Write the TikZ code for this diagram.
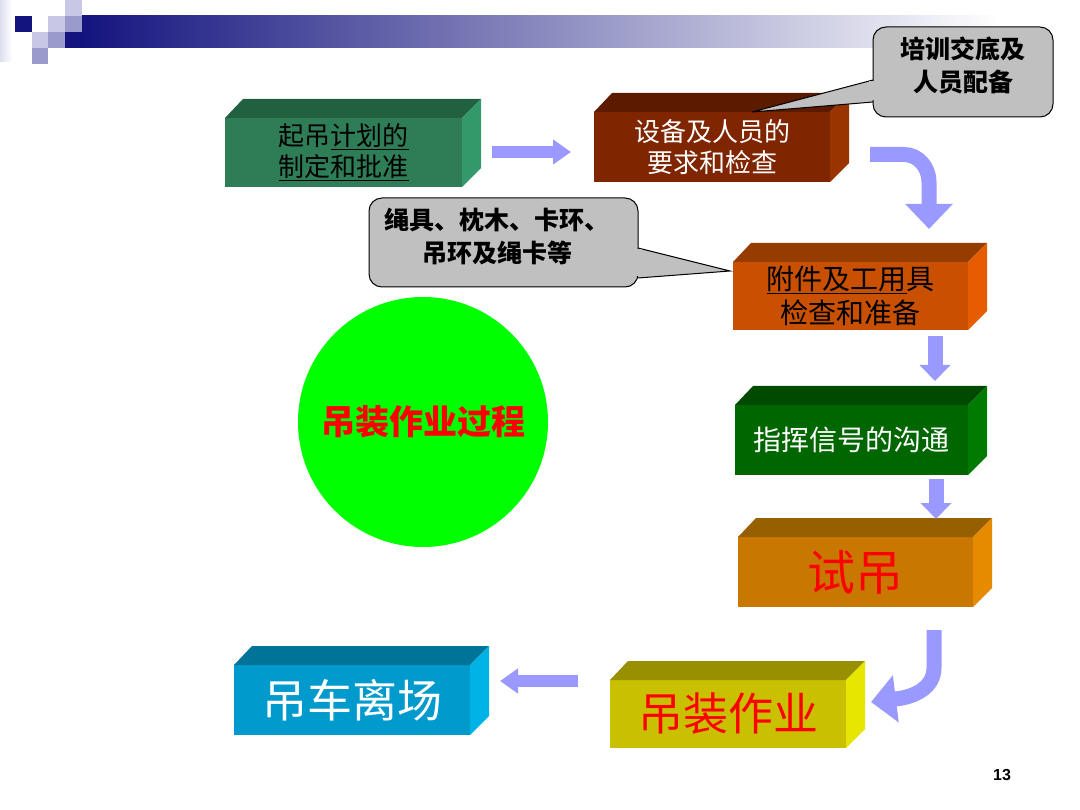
\documentclass[tikz,border=0pt]{standalone}
\usepackage{fontspec}
\setmainfont{Noto Sans CJK SC}
\newfontfamily\numfont{Liberation Sans}
\usetikzlibrary{arrows.meta,calc}
\definecolor{navy}{HTML}{14147F}
\definecolor{lightsq}{HTML}{C8C8E6}
\definecolor{medsq}{HTML}{9A9ACD}
\definecolor{arrowc}{HTML}{9999FF}
\definecolor{calloutc}{HTML}{C0C0C0}
\definecolor{aF}{HTML}{2E7D57}\definecolor{aT}{HTML}{22613F}\definecolor{aR}{HTML}{33996A}
\definecolor{bF}{HTML}{7F2600}\definecolor{bT}{HTML}{5C1B00}\definecolor{bR}{HTML}{993300}
\definecolor{cF}{HTML}{C85000}\definecolor{cT}{HTML}{963C00}\definecolor{cR}{HTML}{E65C00}
\definecolor{dF}{HTML}{006600}\definecolor{dT}{HTML}{004A00}\definecolor{dR}{HTML}{007A00}
\definecolor{eF}{HTML}{C87800}\definecolor{eT}{HTML}{966000}\definecolor{eR}{HTML}{E68A00}
\definecolor{fF}{HTML}{C8C000}\definecolor{fT}{HTML}{989000}\definecolor{fR}{HTML}{E6E600}
\definecolor{gF}{HTML}{009ACD}\definecolor{gT}{HTML}{007399}\definecolor{gR}{HTML}{00B3E6}
\newcommand\prismfaces[4]{%
  \fill[#2] (#1.north west) -- ++(18,-19) -- ($(#1.north east)+(19,-19)$) -- (#1.north east) -- cycle;
  \fill[#3] (#1.north east) -- ++(19,-19) -- ($(#1.south east)+(19,-19)$) -- (#1.south east) -- cycle;
}
\tikzset{
  box/.style={inner sep=0pt, outer sep=0pt, align=center},
  flow/.style={draw=arrowc, line width=12pt, -{Triangle[width=24pt,length=18pt]}},
  flowv/.style={draw=arrowc, line width=15pt, -{Triangle[width=30pt,length=16pt]}},
  flowc/.style={draw=arrowc, line width=15pt, -{Triangle[width=46pt,length=25pt]}},
  callout/.style={fill=calloutc, draw=black, line width=1pt},
  ctext/.style={align=center, font=\bfseries\fontsize{25}{33}\selectfont},
}
\begin{document}
\begin{tikzpicture}[x=1pt,y=-1pt]
\useasboundingbox (0,0) rectangle (1080,810);
\fill[white] (0,0) rectangle (1080,810);
% header decoration
\shade[left color=lightsq!60, right color=white] (0,0) rectangle (12,62);
\shade[left color=navy, right color=white] (82,16) rectangle (1000,48);
\fill[lightsq] (65,0) rectangle (82,16);
\fill[navy] (15,16) rectangle (32,32);
\fill[lightsq] (48,16) rectangle (65,32);
\fill[medsq] (65,16) rectangle (82,32);
\fill[lightsq] (32,32) rectangle (48,48);
\fill[medsq] (48,32) rectangle (65,48);
\fill[navy] (65,32) rectangle (82,48);
\fill[medsq] (32,48) rectangle (48,64);

% boxes
\node[box, fill=aF, minimum width=237pt, minimum height=69pt, font=\fontsize{26}{31}\selectfont] (b1) at (343.5,152.5)
  {起吊\underline{计划的}\\\underline{制定和批准}};
\prismfaces{b1}{aT}{aR}{}
\node[box, fill=bF, minimum width=236pt, minimum height=70pt, text=white, font=\fontsize{26}{31}\selectfont] (b2) at (712,147)
  {设备及人员的\\要求和检查};
\prismfaces{b2}{bT}{bR}{}
\node[box, fill=cF, minimum width=235pt, minimum height=68pt, font=\fontsize{28}{34}\selectfont] (b3) at (850.5,296)
  {\underline{附件及工用}具\\检查和准备};
\prismfaces{b3}{cT}{cR}{}
\node[box, fill=dF, minimum width=233pt, minimum height=70pt, text=white, font=\fontsize{28}{34}\selectfont] (b4) at (851.5,440)
  {指挥信号的沟通};
\prismfaces{b4}{dT}{dR}{}
\node[box, fill=eF, minimum width=235pt, minimum height=70pt, text=red, font=\fontsize{48}{50}\selectfont] (b5) at (855.5,572)
  {试吊};
\prismfaces{b5}{eT}{eR}{}
\node[box, fill=fF, minimum width=236pt, minimum height=68pt, text=red, font=\fontsize{45}{48}\selectfont] (b6) at (728,714)
  {吊装作业};
\prismfaces{b6}{fT}{fR}{}
\node[box, fill=gF, minimum width=236pt, minimum height=70pt, text=white, font=\fontsize{45}{48}\selectfont] (b7) at (352,700)
  {吊车离场};
\prismfaces{b7}{gT}{gR}{}

% circle
\node[circle, fill=green, minimum size=250pt, inner sep=0pt, text=red, font=\bfseries\fontsize{34}{36}\selectfont] (circ) at (423,422) {吊装作业过程};

% callout 1
\coordinate (t1) at (752,112);
\path[callout] (873,80) -- (t1) -- (873,102);
\draw[callout, rounded corners=13pt] (873,27) rectangle (1053,117);
\fill[calloutc] (869,81.5) rectangle (877,100.5);
\node[ctext] (c1) at (963,65) {培训交底及\\人员配备};

% callout 2
\coordinate (t2) at (730,271);
\path[callout] (638,248) -- (t2) -- (638,278);
\draw[callout, rounded corners=13pt] (369,198) rectangle (638,287);
\fill[calloutc] (634,249.5) rectangle (642,276.5);
\node[ctext] (c2) at (497,237) {绳具、枕木、卡环、\\吊环及绳卡等};

% arrows
\coordinate (a1s) at (492,152);
\coordinate (a1e) at (571,152);
\draw[flow] (a1s) -- (a1e);
\coordinate (a2s) at (870,154.5);
\coordinate (a2e) at (929,229);
\draw[flowc] (a2s) -- (904,154.5) to[out=0,in=90] (929,182) -- (a2e);
\coordinate (a3s) at (935,336);
\coordinate (a3e) at (935,381);
\draw[flowv] (a3s) -- (a3e);
\coordinate (a4s) at (936,479);
\coordinate (a4e) at (936,519);
\draw[flowv] (a4s) -- (a4e);
\coordinate (a5s) at (934,630);
\coordinate (a5e) at (871,702);
\draw[flowc] (a5s) -- (934,668) to[out=-90,in=5] (895,699) -- (a5e);
\coordinate (a6s) at (578,681);
\coordinate (a6e) at (500,681);
\draw[flow] (a6s) -- (a6e);

% page number
\node[font=\numfont\bfseries\fontsize{16}{16}\selectfont] (pg) at (1002,775) {13};
\end{tikzpicture}
\end{document}
